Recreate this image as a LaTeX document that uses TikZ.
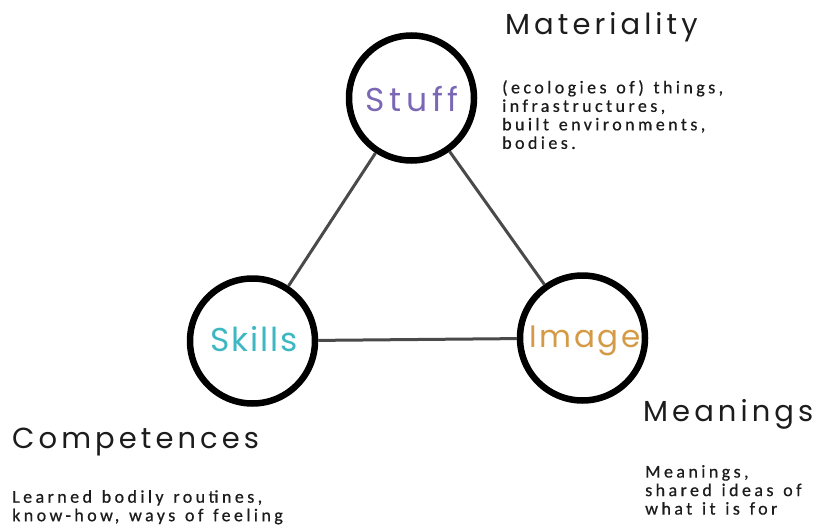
\documentclass[tikz,border=0pt]{standalone}
\usepackage{fontspec}
\newfontfamily\headfont[LetterSpace=14]{Poppins}
\newfontfamily\stufffont[LetterSpace=14]{Poppins}
\newfontfamily\skillfont[LetterSpace=6]{Poppins}
\newfontfamily\imagefont[LetterSpace=8]{Poppins}
\newfontfamily\bodyfont[LetterSpace=19,WordSpace=1.3,FakeBold=0.6]{Carlito}
\definecolor{stuffc}{HTML}{7B68B5}
\definecolor{skillc}{HTML}{3DB8C2}
\definecolor{imagec}{HTML}{D49A45}
\definecolor{linkc}{HTML}{4A4A4A}
\definecolor{inkc}{HTML}{1C1C1C}
\tikzset{
  ring/.style={circle, draw=black, line width=6.5pt, minimum size=125pt, inner sep=0pt, fill=white},
  heading/.style={anchor=base west, inner sep=0pt, font=\headfont\fontsize{29}{32}\selectfont, text=inkc},
  body/.style={anchor=north west, inner sep=0pt, align=left, font=\bodyfont\fontsize{18}{18.5}\selectfont, text=inkc},
  link/.style={draw=linkc, line width=3pt},
  ringlabel/.style={anchor=base, inner sep=0pt}
}
\begin{document}
\begin{tikzpicture}[x=1pt,y=-1pt]
\useasboundingbox (0,0) rectangle (814,527);
\node[ring] (stuff) at (411.5,98) {};
\node[ring] (skills) at (252.5,341) {};
\node[ring] (image) at (582.5,338) {};
\draw[link] (stuff) -- (skills);
\draw[link] (stuff) -- (image);
\draw[link] (skills) -- (image);
\node[ringlabel, font=\stufffont\fontsize{33}{36}\selectfont, text=stuffc] (tstuff) at (412,111) {Stuff};
\node[ringlabel, font=\skillfont\fontsize{33}{36}\selectfont, text=skillc] (tskills) at (254,351) {Skills};
\node[ringlabel, font=\imagefont\fontsize{31}{36}\selectfont, text=imagec] (timage) at (585,347) {Image};
\node[heading] (hmat) at (505,35) {Materiality};
\node[body] (bmat) at (502,80) {(ecologies of) things,\\infrastructures,\\built environments,\\bodies.};
\node[heading] (hcomp) at (12,448) {Competences};
\node[body] (bcomp) at (12,490) {Learned bodily routines,\\know-how, ways of feeling};
\node[heading] (hmean) at (643,421) {Meanings};
\node[body] (bmean) at (645,465) {Meanings,\\shared ideas of\\what it is for};
\end{tikzpicture}
\end{document}
